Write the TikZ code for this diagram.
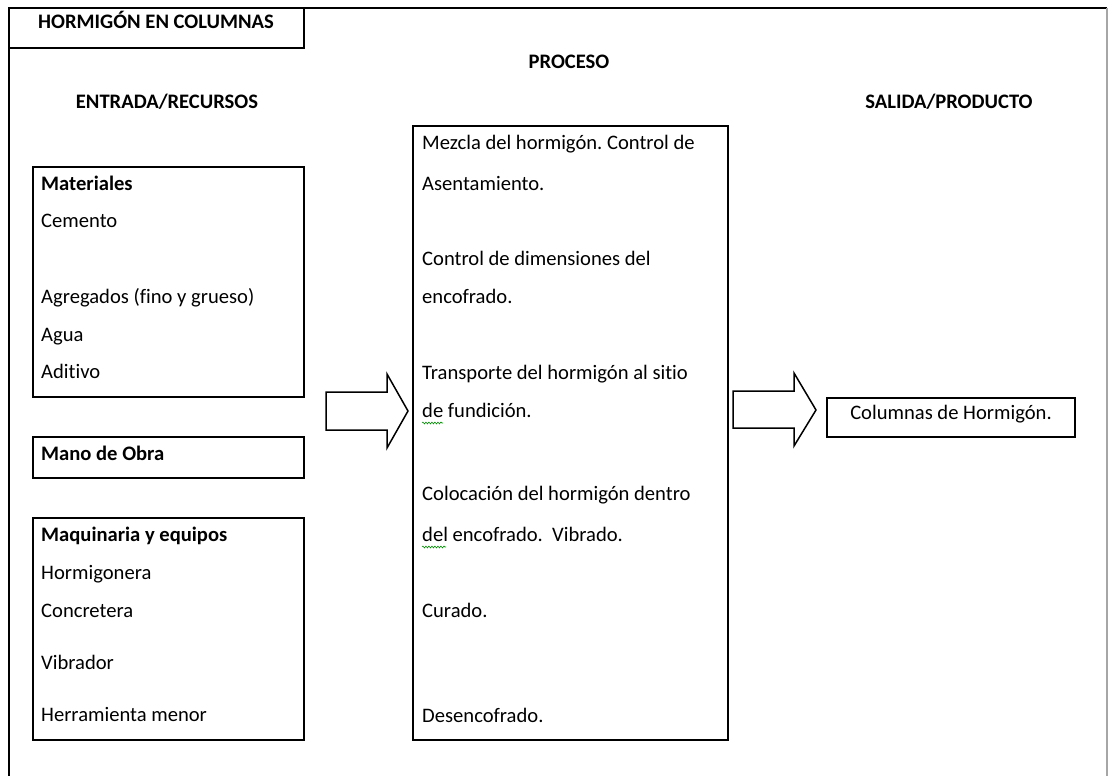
\documentclass[tikz,border=0pt]{standalone}
\usepackage{fontspec}
\setmainfont{Carlito}[Ligatures={NoCommon}]
\usetikzlibrary{decorations.pathmorphing}
\frenchspacing

\begin{document}
\begin{tikzpicture}[x=1pt,y=-1pt,
  box/.style={draw=black, line width=1.6pt, inner sep=0pt, outer sep=0pt, anchor=north west},
  txt/.style={anchor=base west, inner sep=0pt, font=\fontsize{20.6}{24}\selectfont},
  btxt/.style={txt, font=\bfseries\fontsize{20.6}{24}\selectfont},
  hdr/.style={anchor=base, inner sep=0pt, font=\bfseries\fontsize{20.6}{24}\selectfont},
  blockarrow/.style={draw=black, line width=1.5pt, line join=miter, fill=white},
  squiggle/.style={draw=green!55!black, line width=0.6pt,
    decorate, decoration={snake, amplitude=0.9pt, segment length=3pt}}]

\useasboundingbox (0,0) rectangle (1109,776);

% page frame
\draw[line width=2pt] (9,776) -- (9,8) -- (1107,8);
\draw[line width=1.5pt, gray!70] (1107,8) -- (1107,776);

% title
\node[box, minimum width=295, minimum height=40] (title) at (9,8) {};
\node[hdr] (titletxt) at (156,29) {HORMIGÓN EN COLUMNAS};

% column headers
\node[hdr] (hproc) at (569,69) {PROCESO};
\node[hdr] (hin) at (167,108) {ENTRADA/RECURSOS};
\node[hdr] (hout) at (949,108) {SALIDA/PRODUCTO};

% inputs
\node[box, minimum width=271, minimum height=230] (mat) at (33,167) {};
\node[btxt] (m0) at (41,190) {Materiales};
\node[txt] (m1) at (41,227) {Cemento};
\node[txt] (m2) at (41,303) {Agregados (fino y grueso)};
\node[txt] (m3) at (41,341) {Agua};
\node[txt] (m4) at (41,378) {Aditivo};

\node[box, minimum width=271, minimum height=41] (mano) at (33,437) {};
\node[btxt] (mo) at (41,460) {Mano de Obra};

\node[box, minimum width=271, minimum height=222] (maq) at (33,518) {};
\node[btxt] (q0) at (41,541) {Maquinaria y equipos};
\node[txt] (q1) at (41,579) {Hormigonera};
\node[txt] (q2) at (41,617) {Concretera};
\node[txt] (q3) at (41,669) {Vibrador};
\node[txt] (q4) at (41,721) {Herramienta menor};

% process
\node[box, minimum width=315, minimum height=614] (proc) at (413,126) {};
\node[txt] (p1) at (422,149) {Mezcla del hormigón. Control de};
\node[txt] (p2) at (422,190) {Asentamiento.};
\node[txt] (p3) at (422,265) {Control de dimensiones del};
\node[txt] (p4) at (422,303) {encofrado.};
\node[txt] (p5) at (422,379) {Transporte del\ hormigón al sitio};
\node[txt] (p6) at (422,417) {de fundición.};
\node[txt] (p7) at (422,500) {Colocación del hormigón dentro};
\node[txt] (p8) at (422,541) {del encofrado.\ \ Vibrado.};
\node[txt] (p9) at (422,617) {Curado.};
\node[txt] (p10) at (422,722) {Desencofrado.};

\draw[squiggle] (p6.base west) ++(0,6) -- ++(21,0);
\draw[squiggle] (p8.base west) ++(0,6) -- ++(24,0);

% output
\node[box, minimum width=248, minimum height=39] (out) at (827,398) {};
\node[anchor=base, inner sep=0pt, font=\fontsize{20.6}{24}\selectfont] (outtxt) at (951,419) {Columnas de Hormigón.};

% block arrows
\coordinate (a1) at (326,411);
\draw[blockarrow] (a1) ++(0,-19) -- ++(61,0) -- ++(0,-18) -- (408,411)
  -- (387,448) -- (387,430) -- (326,430) -- cycle;
\coordinate (a2) at (733,410);
\draw[blockarrow] (a2) ++(0,-19) -- ++(61,0) -- ++(0,-18) -- (816,410)
  -- (794,446) -- (794,428) -- (733,428) -- cycle;

\end{tikzpicture}
\end{document}
